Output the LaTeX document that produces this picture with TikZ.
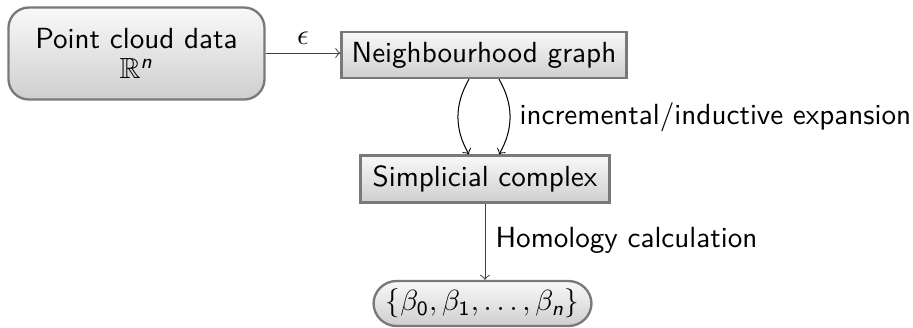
\documentclass[tikz,border=0pt]{standalone}
\usepackage{amsmath,amssymb}
\usepackage{fontspec}
\usetikzlibrary{arrows}
\renewcommand{\familydefault}{\sfdefault}
\newcommand{\sfit}[1]{\text{\sffamily\itshape #1}}
\newcommand{\sfup}[1]{\text{\sffamily\upshape #1}}
\begin{document}
\begin{tikzpicture}[x=0.3436pt,y=-0.3436pt,
  font=\sffamily\fontsize{10}{12}\selectfont,
  boxbase/.style={draw=gray!95!black, line width=0.8pt, top color=gray!5, bottom color=gray!38, text=black, inner sep=0pt, align=center},
  sqbox/.style={boxbase},
  rndbox/.style={boxbase, rounded corners=7pt},
  pillbox/.style={boxbase, rounded corners=7.9pt},
  conn/.style={-to, line width=0.35pt, black!75},
  lbl/.style={inner sep=0pt, text=black}]
\useasboundingbox (0,0) rectangle (913,327);
\node[rndbox, minimum width=256*0.3436pt, minimum height=92*0.3436pt] (pc) at (136.5,53.5) {Point cloud data\\[-1.5pt]$\mathbb{R}^{\sfit{n}}$};
\node[sqbox, minimum width=285*0.3436pt, minimum height=46*0.3436pt] (ng) at (484,55) {Neighbourhood graph};
\node[sqbox, minimum width=249*0.3436pt, minimum height=47*0.3436pt] (sc) at (485,179) {Simplicial complex};
\node[pillbox, minimum width=218*0.3436pt, minimum height=45*0.3436pt] (bt) at (482.5,303.5) {$\{\beta_{\sfup{0}},\beta_{\sfup{1}},\ldots,\beta_{\sfit{n}}\}$};
\coordinate (ngL) at ([xshift=-15*0.3436pt]ng.south);
\coordinate (ngR) at ([xshift=15*0.3436pt]ng.south);
\coordinate (scL) at (ngL |- sc.north);
\coordinate (scR) at (ngR |- sc.north);
\draw[conn] (pc.east |- 0,53) -- (ng.west |- 0,53) node[lbl, midway, above=2.8pt] (eps) {$\epsilon$};
\draw[conn, black] (ngL) to[bend right=30] (scL);
\draw[conn, black] (ngR) to[bend left=30] (scR);
\node[lbl, anchor=west] (inc) at (519,117) {incremental/inductive expansion};
\draw[conn] (sc.south) -- (sc.south |- bt.north);
\node[lbl, anchor=west] (hom) at (495,240) {Homology calculation};
\end{tikzpicture}
\end{document}
